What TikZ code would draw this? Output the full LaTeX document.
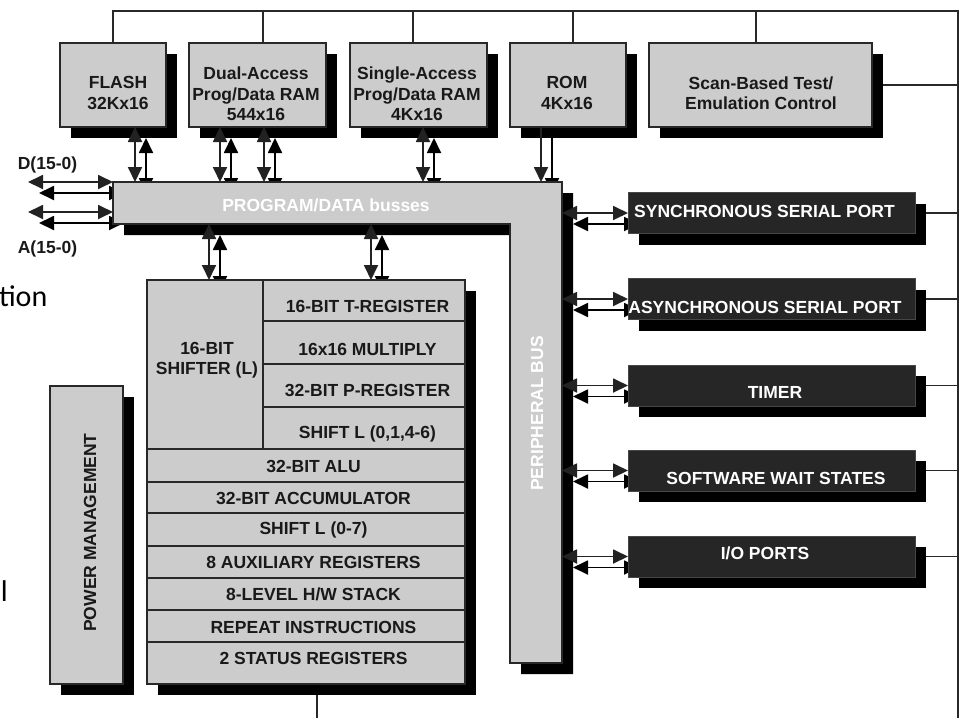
\documentclass[tikz,border=0pt]{standalone}
\usepackage{fontspec}
\setmainfont{Liberation Sans}
\newfontfamily\calfont{Carlito}
\usetikzlibrary{arrows.meta,shadows,calc,backgrounds}
\definecolor{boxgray}{RGB}{204,204,204}
\definecolor{edgec}{RGB}{40,40,40}
\definecolor{perfill}{RGB}{38,38,38}
\definecolor{peredge}{RGB}{70,70,70}
\definecolor{txtc}{RGB}{25,25,25}
\definecolor{arrc}{RGB}{34,34,34}
\newcommand\twin[3]{%
  \draw[#1] #2 -- #3;
  \begin{scope}[on background layer]
    \draw[#1,draw=black] ($#2+(11,11)$) -- ($#3+(11,11)$);
  \end{scope}}
\begin{document}
\begin{tikzpicture}[x=1pt,y=-1pt,
 every node/.style={inner sep=0pt,outer sep=0pt},
 f/.style={font=\fontsize{17.5}{20.5}\selectfont\bfseries},
 shd/.style={drop shadow={shadow xshift=11pt,shadow yshift=-11pt,opacity=1,fill=black}},
 cell/.style={draw=edgec,line width=1.2pt,fill=boxgray},
 lbox/.style={cell,shd},
 pbox/.style={draw=peredge,line width=1pt,fill=perfill,shd},
 tx/.style={f,text=txtc,align=center},
 wt/.style={f,text=white,align=center},
 wire/.style={draw=edgec,line width=1.3pt},
 bi/.style={draw=arrc,line width=1.8pt,arrows={Triangle[length=15pt,width=14pt]-Triangle[length=15pt,width=14pt]}},
 dn/.style={draw=arrc,line width=1.8pt,arrows={-Triangle[length=15pt,width=14pt]}}]

\begin{scope}[on background layer]
  \fill[white] (0,0) rectangle (965,718);
\end{scope}
\useasboundingbox (0,0) rectangle (965,718);

% memory boxes
\node[lbox,minimum width=106pt,minimum height=84pt] (flash) at (113,85) {};
\node[lbox,minimum width=137pt,minimum height=84pt] (dual) at (257.5,85) {};
\node[lbox,minimum width=137pt,minimum height=84pt] (single) at (418.5,85) {};
\node[lbox,minimum width=116pt,minimum height=84pt] (rom) at (568,85) {};
\node[lbox,minimum width=223pt,minimum height=84pt] (scan) at (760.5,85) {};
\node[tx] (flashT) at (118,93) {FLASH\\32Kx16};
\node[tx] (dualT) at (256,94) {Dual-Access\\Prog/Data RAM\\544x16};
\node[tx] (singleT) at (417,94) {Single-Access\\Prog/Data RAM\\4Kx16};
\node[tx] (romT) at (567,93) {ROM\\4Kx16};
\node[tx] (scanT) at (761,93) {Scan-Based Test/\\Emulation Control};

% busses
\node[minimum width=449pt,minimum height=42pt] (busH) at (337.5,203) {};
\node[minimum width=52pt,minimum height=481pt] (busV) at (536,422.5) {};
\fill[black] ($(busH.north west)+(11,11)$) -- ($(busV.north east)+(11,11)$) -- ($(busV.south east)+(11,11)$) -- ($(busV.south west)+(11,11)$) -- ($(busV.west |- busH.south)+(11,11)$) -- ($(busH.south west)+(11,11)$) -- cycle;
\filldraw[cell] (busH.north west) -- (busV.north east) -- (busV.south east) -- (busV.south west) -- (busV.west |- busH.south) -- (busH.south west) -- cycle;
\node[f,text=white] (busT) at (326,205) {PROGRAM/DATA busses};
\node[f,text=white,rotate=90] (perT) at (537,413.5) {PERIPHERAL BUS};

% peripherals
\node[pbox,minimum width=287pt,minimum height=41pt] (sync) at (771.5,213) {};
\node[pbox,minimum width=287pt,minimum height=41pt] (async) at (771.5,299) {};
\node[pbox,minimum width=287pt,minimum height=41pt] (timer) at (771.5,385.5) {};
\node[pbox,minimum width=287pt,minimum height=41pt] (sw) at (771.5,470.5) {};
\node[pbox,minimum width=287pt,minimum height=41pt] (io) at (771.5,556.5) {};

% CPU
\node[lbox,minimum width=318pt,minimum height=404pt] (cpu) at (306,482) {};
\node[cell,minimum width=116pt,minimum height=169pt] (shifter) at (205,364.5) {};
\node[cell,minimum width=202pt,minimum height=41pt] (treg) at (364,300.5) {};
\node[cell,minimum width=202pt,minimum height=43pt] (mult) at (364,342.5) {};
\node[cell,minimum width=202pt,minimum height=43pt] (preg) at (364,385.5) {};
\node[cell,minimum width=202pt,minimum height=42pt] (shl) at (364,428) {};
\node[cell,minimum width=318pt,minimum height=33pt] (alu) at (306,465.5) {};
\node[cell,minimum width=318pt,minimum height=31pt] (acc) at (306,497.5) {};
\node[cell,minimum width=318pt,minimum height=33pt] (shlb) at (306,529.5) {};
\node[cell,minimum width=318pt,minimum height=32pt] (aux) at (306,562) {};
\node[cell,minimum width=318pt,minimum height=32pt] (stack) at (306,594) {};
\node[cell,minimum width=318pt,minimum height=32pt] (rep) at (306,626) {};
\node[cell,minimum width=318pt,minimum height=42pt] (stat) at (306,663) {};
\node[tx] (shifterT) at (207,360) {16-BIT\\SHIFTER (L)};
\node[tx] (tregT) at (367.5,306) {16-BIT T-REGISTER};
\node[tx] (multT) at (367.5,349) {16x16 MULTIPLY};
\node[tx] (pregT) at (367.5,390) {32-BIT P-REGISTER};
\node[tx] (shlT) at (367.5,434) {SHIFT L (0,1,4-6)};
\node[tx] (aluT) at (313.5,466) {32-BIT ALU};
\node[tx] (accT) at (313.5,498) {32-BIT ACCUMULATOR};
\node[tx] (shlbT) at (313.5,529.5) {SHIFT L (0-7)};
\node[tx] (auxT) at (313.5,562.5) {8 AUXILIARY REGISTERS};
\node[tx] (stackT) at (313.5,594.5) {8-LEVEL H/W STACK};
\node[tx] (repT) at (313.5,627) {REPEAT INSTRUCTIONS};
\node[tx] (statT) at (313.5,658.5) {2 STATUS REGISTERS};

% power
\node[lbox,minimum width=73pt,minimum height=298pt] (pwr) at (86.5,535) {};
\node[tx,rotate=90] (pwrT) at (90,532.5) {POWER MANAGEMENT};

% external labels
\node[tx] (dT) at (47.5,164.5) {D(15-0)};
\node[tx] (aT) at (47.5,248.5) {A(15-0)};
\node[anchor=base west,font=\calfont\fontsize{30}{32}\selectfont] (tion) at (-1,306) {tion};
\node[anchor=base west,font=\calfont\fontsize{30}{32}\selectfont] (ell) at (1,601) {l};

% wires
\coordinate (tr) at (958,11);
\coordinate (br) at (958,718);
\coordinate (k1) at (113,11);
\coordinate (k2) at (263,11);
\coordinate (k3) at (413,11);
\coordinate (k4) at (573,11);
\coordinate (k5) at (756,11);
\coordinate (cb) at (317,718);
\begin{scope}[on background layer]
  \draw[wire] (k1 |- flash.north) -- (k1) -- (tr) -- (br);
  \draw[wire] (k2) -- (k2 |- dual.north);
  \draw[wire] (k3) -- (k3 |- single.north);
  \draw[wire] (k4) -- (k4 |- rom.north);
  \draw[wire] (k5) -- (k5 |- scan.north);
  \draw[wire] (scan.east) -- (scan.east -| br);
  \draw[wire] (sync.east) -- (sync.east -| br);
  \draw[wire] (async.east) -- (async.east -| br);
  \draw[wire] (timer.east) -- (timer.east -| br);
  \draw[wire] (sw.east) -- (sw.east -| br);
  \draw[wire] (io.east) -- (io.east -| br);
  \draw[wire] (cb) -- (cb |- cpu.south);
\end{scope}

% arrows
\coordinate (d1) at (28,182);
\coordinate (a1) at (28,212);
\twin{bi}{(d1)}{(d1 -| busH.west)}
\twin{bi}{(a1)}{(a1 -| busH.west)}
\coordinate (m1) at (135,0);
\coordinate (m2) at (220,0);
\coordinate (m3) at (264,0);
\coordinate (m4) at (423,0);
\coordinate (m5) at (541,0);
\twin{bi}{(m1 |- flash.south)}{(m1 |- busH.north)}
\twin{bi}{(m2 |- dual.south)}{(m2 |- busH.north)}
\twin{bi}{(m3 |- dual.south)}{(m3 |- busH.north)}
\twin{bi}{(m4 |- single.south)}{(m4 |- busH.north)}
\twin{dn}{(m5 |- rom.south)}{(m5 |- busH.north)}
\coordinate (c1) at (209,0);
\coordinate (c2) at (371,0);
\twin{bi}{(c1 |- busH.south)}{(c1 |- cpu.north)}
\twin{bi}{(c2 |- busH.south)}{(c2 |- cpu.north)}
\twin{bi}{(busV.east |- sync.west)}{(sync.west)}
\twin{bi}{(busV.east |- async.west)}{(async.west)}
\twin{bi}{(busV.east |- timer.west)}{(timer.west)}
\twin{bi}{(busV.east |- sw.west)}{(sw.west)}
\twin{bi}{(busV.east |- io.west)}{(io.west)}

% peripheral texts
\node[wt] (syncT) at (764.5,211) {SYNCHRONOUS SERIAL PORT};
\node[wt] (asyncT) at (765,307) {ASYNCHRONOUS SERIAL PORT};
\node[wt] (timerT) at (775,392) {TIMER};
\node[wt] (swT) at (776,478) {SOFTWARE WAIT STATES};
\node[wt] (ioT) at (765,553) {I/O PORTS};
\end{tikzpicture}
\end{document}
